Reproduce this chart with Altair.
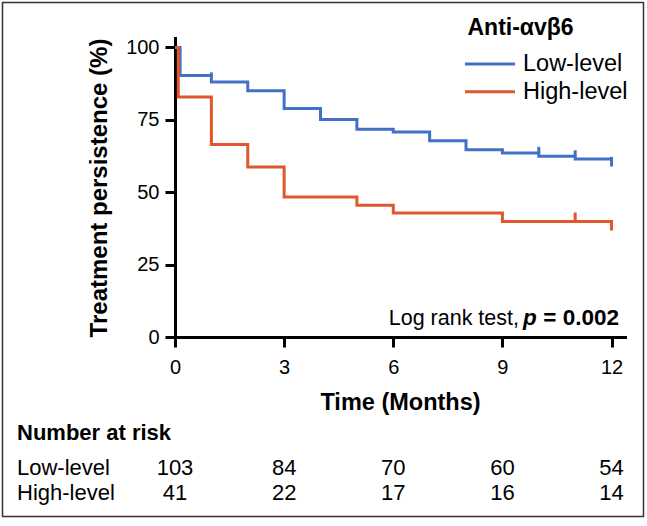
import altair as alt
import pandas as pd

FONT = "Liberation Sans"

# ---- data ----
groups = ["Low-level", "High-level"]
colors = ["#4170C5", "#E0572D"]

low_time = [0, 0.14, 1, 2, 3, 4, 5, 6, 7, 8, 9, 10, 11, 12]
low_surv = [100, 90.3, 88.1, 85.1, 78.9, 75.1, 71.8, 70.8, 67.8, 64.7, 63.6, 62.4, 61.5, 58.9]
high_time = [0, 0.09, 1, 2, 3, 5, 6, 9, 12]
high_surv = [100, 82.9, 66.5, 58.7, 48.4, 45.5, 42.8, 39.9, 36.8]

low_cens_time = [1, 10, 11, 12]
low_cens_base = [90.3, 63.6, 62.4, 61.5]
low_cens_top = [91.4, 65.7, 64.5, 62.2]
high_cens_time = [11]
high_cens_base = [39.9]
high_cens_top = [43.0]

risk_times = [0, 3, 6, 9, 12]
low_risk = [103, 84, 70, 60, 54]
high_risk = [41, 22, 17, 16, 14]

x_ticks = [0, 3, 6, 9, 12]
y_ticks = [0, 25, 50, 75, 100]

# ---- tables ----
curves = pd.concat([
    pd.DataFrame({"time": low_time, "surv": low_surv, "group": "Low-level"}),
    pd.DataFrame({"time": high_time, "surv": high_surv, "group": "High-level"}),
])
cens = pd.concat([
    pd.DataFrame({"time": low_cens_time, "surv": low_cens_base, "top": low_cens_top, "group": "Low-level"}),
    pd.DataFrame({"time": high_cens_time, "surv": high_cens_base, "top": high_cens_top, "group": "High-level"}),
])
risk_low = pd.DataFrame({"time": risk_times, "n": low_risk})
risk_high = pd.DataFrame({"time": risk_times, "n": high_risk})

W, H = 450, 299
xscale = alt.Scale(domain=[0, 12.37], nice=False, zero=False)
yscale = alt.Scale(domain=[0, 103.28], nice=False, zero=False)
cscale = alt.Scale(domain=groups, range=colors)

X = alt.X("time:Q", scale=xscale,
          axis=alt.Axis(values=x_ticks, title="Time (Months)", labelPadding=10,
                        titlePadding=13, titleFontSize=23.5, labelFlush=False))
Y = alt.Y("surv:Q", scale=yscale,
          axis=alt.Axis(values=y_ticks, title="Treatment persistence (%)", labelPadding=6,
                        titlePadding=14, titleFontSize=24))

lines = alt.Chart(curves).mark_line(interpolate="step-after", strokeWidth=3).encode(
    x=X, y=Y,
    color=alt.Color("group:N", scale=cscale, legend=None),
    order="time:Q",
)

ticks = alt.Chart(cens).mark_rule(strokeWidth=3).encode(
    x=alt.X("time:Q", scale=xscale),
    y=alt.Y("surv:Q", scale=yscale),
    y2="top:Q",
    color=alt.Color("group:N", scale=cscale, legend=None),
)

one = pd.DataFrame({"a": [0]})

border = alt.Chart(one).mark_rect(fill="white", fillOpacity=0, stroke="#333333", strokeWidth=1.5).encode(
    x=alt.value(-172.5), x2=alt.value(468.5), y=alt.value(-35.5), y2=alt.value(478.5)
)

def txt(s, x, y, size, weight="normal", align="left", style="normal"):
    return alt.Chart(one).mark_text(
        text=s, font=FONT, fontSize=size, fontWeight=weight, fontStyle=style,
        align=align, baseline="alphabetic", color="black"
    ).encode(x=alt.value(x), y=alt.value(y))

layers = [border, lines, ticks]

# legend
layers.append(txt("Anti-αvβ6", 292.5, -3, 23, "bold"))
for i, g in enumerate(groups):
    ly = 26 + i * 27.7
    layers.append(
        alt.Chart(pd.DataFrame({"group": [g]})).mark_rule(strokeWidth=3).encode(
            x=alt.value(290), x2=alt.value(340), y=alt.value(ly),
            color=alt.Color("group:N", scale=cscale, legend=None),
        )
    )
    layers.append(txt(g, 348, ly + 7, 23.5))

# log rank annotation
layers.append(txt("Log rank test,", 344, 287, 21.5, align="right"))
layers.append(txt("p", 348, 287, 22.5, "bold", style="italic"))
layers.append(txt("= 0.002", 444, 287, 22.5, "bold", align="right"))

# risk table
layers.append(txt("Number at risk", -158, 402, 22, "bold"))
layers.append(txt("Low-level", -158, 437, 22))
layers.append(txt("High-level", -158, 462, 22))
for df, ry in [(risk_low, 437), (risk_high, 462)]:
    layers.append(
        alt.Chart(df).mark_text(font=FONT, fontSize=22, align="center", baseline="alphabetic",
                                color="black").encode(
            x=alt.X("time:Q", scale=xscale), y=alt.value(ry), text="n:Q"
        )
    )

chart = alt.layer(*layers).properties(
    width=W, height=H,
    autosize=alt.AutoSizeParams(type="none"),
    padding={"left": 175, "top": 38, "right": 22, "bottom": 189},
    background="white",
).configure_view(strokeWidth=0).configure_axis(
    domainColor="black", domainWidth=3, tickColor="black", tickWidth=3, tickSize=10,
    labelColor="black", labelFont=FONT, labelFontSize=20, titleFont=FONT,
    titleFontWeight="bold", titleColor="black", grid=False, domainCap="square",
)

chart.save("out.html", embed_options={"renderer": "svg", "actions": False})
